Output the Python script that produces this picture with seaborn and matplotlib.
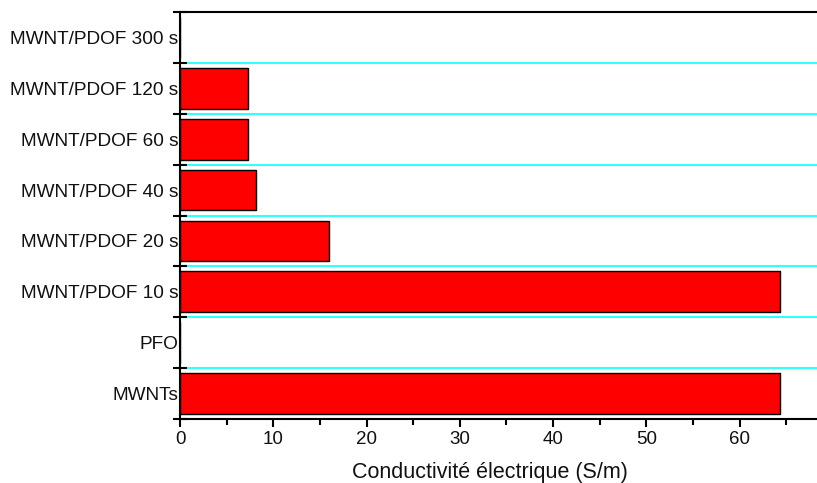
import pandas as pd
import matplotlib.pyplot as plt
import seaborn as sns
from matplotlib.ticker import MultipleLocator, FixedLocator

samples = [
    "MWNT/PDOF 300 s",
    "MWNT/PDOF 120 s",
    "MWNT/PDOF 60 s",
    "MWNT/PDOF 40 s",
    "MWNT/PDOF 20 s",
    "MWNT/PDOF 10 s",
    "PFO",
    "MWNTs",
]
conductivity = [0.0, 7.3, 7.3, 8.1, 16.0, 64.3, 0.0, 64.3]

df = pd.DataFrame({"sample": samples, "cond": conductivity})

sns.set_style("white")
plt.rcParams["font.family"] = ["Liberation Sans", "DejaVu Sans"]
plt.rcParams["text.color"] = "#111111"
plt.rcParams["xtick.labelcolor"] = "#111111"
plt.rcParams["ytick.labelcolor"] = "#111111"
plt.rcParams["axes.labelcolor"] = "#111111"

fig = plt.figure(figsize=(8.17, 4.83), dpi=100)
ax = fig.add_axes([180 / 817, 64 / 483, 1 - 180 / 817, (419 - 12) / 483])

sns.barplot(data=df, x="cond", y="sample", order=samples, orient="h",
            color="#ff0000", saturation=1, edgecolor="black", linewidth=1.0,
            width=0.8, errorbar=None, ax=ax)

ax.set_xlim(0, 68.3)
ax.set_ylim(len(samples) - 0.5, -0.5)

# boundaries between categories carry ticks and cyan grid lines
bounds = [i - 0.5 for i in range(len(samples) + 1)]
ax.yaxis.set_minor_locator(FixedLocator(bounds))
ax.grid(True, which="minor", axis="y", color="#33ffff", linewidth=1.5)
ax.grid(False, which="major")
ax.set_axisbelow(True)

ax.xaxis.set_major_locator(MultipleLocator(10))
ax.xaxis.set_minor_locator(MultipleLocator(5))
ax.tick_params(axis="x", which="major", direction="out", length=6, width=1.5,
               color="black", labelsize=13.5, pad=3, bottom=True)
ax.tick_params(axis="x", which="minor", direction="out", length=4, width=1.5,
               color="black", bottom=True)
ax.tick_params(axis="y", which="major", length=0, labelsize=13.7, pad=1)
ax.tick_params(axis="y", which="minor", direction="inout", length=10, width=1.5,
               color="black", left=True)

for side in ["left", "bottom", "top"]:
    ax.spines[side].set_visible(True)
    ax.spines[side].set_color("black")
    ax.spines[side].set_linewidth(1.5)
ax.spines["right"].set_visible(False)

ax.set_ylabel("")
ax.set_xlabel("Conductivité électrique (S/m)", fontsize=15.5, labelpad=8)
ax.xaxis.set_label_coords(0.487, -0.105)

fig.savefig("out.png", dpi=100)
